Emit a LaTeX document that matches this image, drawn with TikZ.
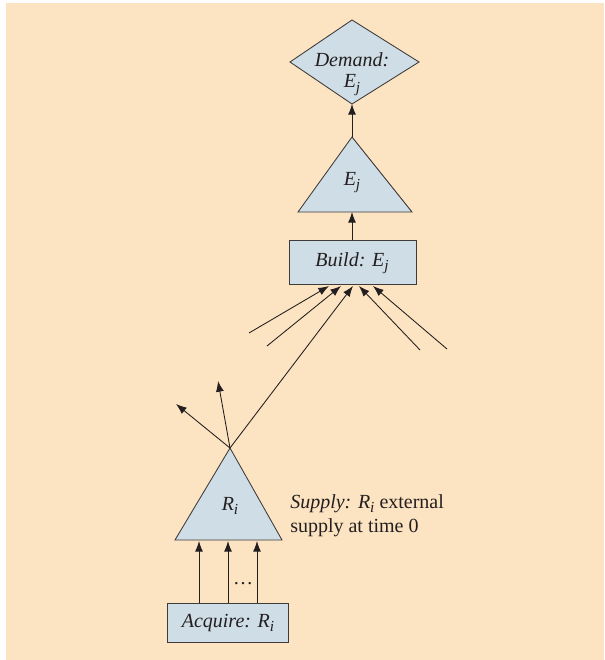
\documentclass[tikz,border=0pt]{standalone}
\usepackage{fontspec}
\setmainfont{Liberation Serif}
\usetikzlibrary{shapes.geometric,arrows.meta}
\definecolor{bgbeige}{HTML}{FCE3C1}
\definecolor{nodefill}{HTML}{CFDDE6}
\definecolor{inkgray}{HTML}{231F20}
\definecolor{edgegray}{HTML}{3F3B3B}
\newcommand{\mysub}[2]{\textit{#1}\raisebox{-0.45ex}{\fontsize{11.5}{12}\selectfont\textit{#2}}}
\tikzset{
  box/.style={draw=edgegray, fill=nodefill, line width=0.65pt, inner sep=0pt},
  lbl/.style={font=\fontsize{15}{18}\selectfont, text=inkgray},
  arr/.style={draw=inkgray, line width=0.65pt, -{Latex[length=8pt,width=6pt]}},
}
\begin{document}
\begin{tikzpicture}[x=0.75pt,y=-0.75pt]
\useasboundingbox (0,0) rectangle (605,660);
\fill[white] (0,0) rectangle (605,660);
\fill[bgbeige] (6,3) rectangle (604,660);
% shapes
\draw[box] (352,20) -- (419,62) -- (352,104) -- (290,62) -- cycle;
\node[lbl, align=center] (dem) at (352,74) {\textit{Demand:}\\[-2pt]\mysub{E}{j}};
\coordinate (demB) at (352,104);
\draw[box] (352,137) -- (412,212) -- (298,212) -- cycle;
\coordinate (ejT) at (352,137);
\coordinate (ejB) at (352,212);
\node[lbl] (ej) at (352,183) {\mysub{E}{j}};
\draw[box] (289,240) rectangle (416,284);
\node[lbl] (build) at (352,263) {\textit{Build:} \mysub{E}{j}};
\coordinate (buildT) at (352,240);
\draw[box] (230,448) -- (282,540) -- (175,540) -- cycle;
\coordinate (riT) at (230,448);
\node[lbl] (ri) at (230,506) {\mysub{R}{i}};
\draw[box] (167,603) rectangle (288,642);
\node[lbl] (acq) at (228,623) {\textit{Acquire:} \mysub{R}{i}};
\node[lbl, anchor=north west, align=left, inner sep=0pt] (sup) at (290,494) {\textit{Supply:} \mysub{R}{i} external\\supply at time 0};
% connectors
\draw[arr] (ejT) -- (demB);
\draw[arr] (buildT) -- (ejB);
\coordinate (t1) at (249,333);
\coordinate (t2) at (267,346);
\coordinate (t4) at (420,350);
\coordinate (t5) at (447,349);
\coordinate (h1) at (329,286);
\coordinate (h2) at (341,286);
\coordinate (h3) at (353,286);
\coordinate (h4) at (359,286);
\coordinate (h5) at (373,286);
\draw[arr] (t1) -- (h1);
\draw[arr] (t2) -- (h2);
\draw[arr] (riT) -- (h3);
\draw[arr] (t4) -- (h4);
\draw[arr] (t5) -- (h5);
\coordinate (o1) at (176,404);
\coordinate (o2) at (218,381);
\draw[arr] (riT) -- (o1);
\draw[arr] (riT) -- (o2);
\foreach \x in {199,228,257} {
  \coordinate (a\x) at (\x,603);
  \coordinate (b\x) at (\x,541);
  \draw[arr] (a\x) -- (b\x);
}
\node[lbl] (dots) at (243,584) {\dots};
\end{tikzpicture}
\end{document}
